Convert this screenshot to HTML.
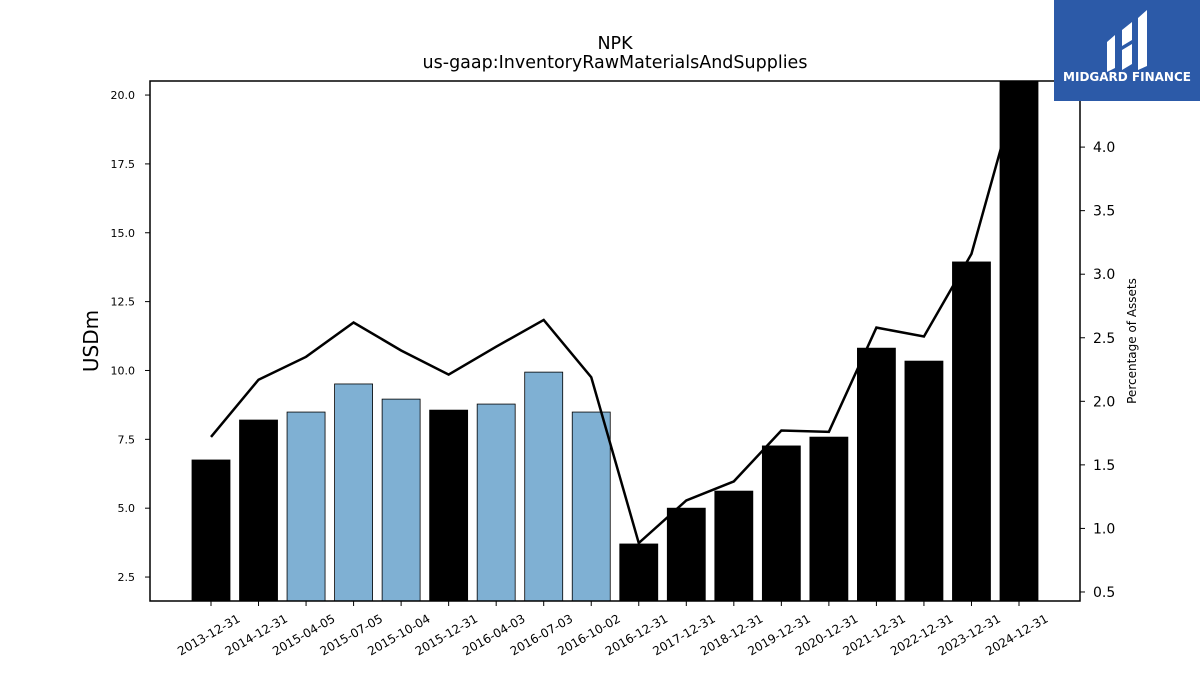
<!DOCTYPE html>
<html><head><meta charset="utf-8"><style>
body{margin:0;background:#fff;font-family:"Liberation Sans","DejaVu Sans",sans-serif}
svg text{font-family:"DejaVu Sans","Liberation Sans",sans-serif}
</style></head><body>
<svg id="chart" width="1200" height="675" xmlns="http://www.w3.org/2000/svg">
<text x="615" y="49" font-size="17.5" text-anchor="middle">NPK</text>
<text x="615" y="68" font-size="17.5" text-anchor="middle">us-gaap:InventoryRawMaterialsAndSupplies</text>
<g id="bars"></g>
<g id="line"></g>
<g id="axes"></g>
<rect x="150" y="81" width="930" height="520" fill="none" stroke="#000" stroke-width="1.5"/>
<text transform="translate(98,341) rotate(-90)" font-size="20" text-anchor="middle">USDm</text>
<text transform="translate(1136,341) rotate(-90)" font-size="12" text-anchor="middle">Percentage of Assets</text>
<g>
<rect x="1054" y="0" width="146" height="101" fill="#2c5aa8"/>
<path d="M1107 42 L1115 35 L1115 68 L1107 72 Z M1122 30 L1132 22 L1132 40 L1122 46 Z M1138 18 L1147 10 L1147 66 L1138 70 Z M1122 50 L1132 44 L1132 64 L1122 70 Z" fill="#fff"/>
<text x="1127" y="81" font-size="12" font-weight="bold" fill="#fff" text-anchor="middle">MIDGARD FINANCE</text>
</g>
</svg>
<script>
const categories=["2013-12-31","2014-12-31","2015-04-05","2015-07-05","2015-10-04","2015-12-31","2016-04-03","2016-07-03","2016-10-02","2016-12-31","2017-12-31","2018-12-31","2019-12-31","2020-12-31","2021-12-31","2022-12-31","2023-12-31","2024-12-31"];
const barValues=[6.75,8.2,8.49,9.51,8.96,8.56,8.78,9.94,8.49,3.70,5.0,5.62,7.26,7.58,10.81,10.34,13.94,21.5];
const pctValues=[1.72,2.17,2.35,2.62,2.40,2.21,2.43,2.64,2.19,0.885,1.22,1.37,1.77,1.76,2.58,2.51,3.16,4.5];
const leftTicks=[2.5,5.0,7.5,10.0,12.5,15.0,17.5,20.0];
const rightTicks=[0.5,1.0,1.5,2.0,2.5,3.0,3.5,4.0];
const NS="http://www.w3.org/2000/svg";
const pTop=81,pBot=601,pLeft=150,pRight=1080;
const yL=v=>pBot-(v-1.63)/(20.51-1.63)*(pBot-pTop);
const yR=v=>pBot-(v-0.429)/(4.52-0.429)*(pBot-pTop);
const xC=i=>211+i*(1019-211)/(categories.length-1);
const bw=38;
function mk(t,a,p){const e=document.createElementNS(NS,t);for(const k in a)e.setAttribute(k,a[k]);p.appendChild(e);return e;}
const barsG=document.getElementById('bars'),axesG=document.getElementById('axes'),lineG=document.getElementById('line');
categories.forEach((c,i)=>{
 const yt=Math.max(yL(barValues[i]),pTop);
 const q=!c.endsWith('12-31');
 const r=mk('rect',{x:xC(i)-bw/2,y:yt,width:bw,height:pBot-yt,fill:q?'#7fb0d3':'#000',stroke:'#000','stroke-width':0.8},barsG);
 
 
 mk('line',{x1:xC(i),x2:xC(i),y1:pBot,y2:pBot+5,stroke:'#000'},axesG);
 const t=mk('text',{transform:`translate(${xC(i)+30},${pBot+20}) rotate(-30)`,'font-size':12,'text-anchor':'end'},axesG);
 t.textContent=c;
 
 
});
const cp=mk('clipPath',{id:'cp'},document.getElementById('chart'));
mk('rect',{x:pLeft,y:pTop,width:pRight-pLeft,height:pBot-pTop},cp);
lineG.setAttribute('clip-path','url(#cp)');
const pts=pctValues.map((v,i)=>xC(i)+','+yR(v)).join(' ');
const pl=mk('polyline',{points:pts,fill:'none',stroke:'#000','stroke-width':2.5},lineG);


leftTicks.forEach(v=>{
 mk('line',{x1:pLeft-5,x2:pLeft,y1:yL(v),y2:yL(v),stroke:'#000'},axesG);
 const t=mk('text',{x:pLeft-15,y:yL(v)+4,'font-size':11,'text-anchor':'end'},axesG);
 t.textContent=v.toFixed(1);
 
 
});
rightTicks.forEach(v=>{
 mk('line',{x1:pRight,x2:pRight+5,y1:yR(v),y2:yR(v),stroke:'#000'},axesG);
 const t=mk('text',{x:pRight+13,y:yR(v)+5,'font-size':14},axesG);
 t.textContent=v.toFixed(1);
 
 
});
</script>
</body></html>
